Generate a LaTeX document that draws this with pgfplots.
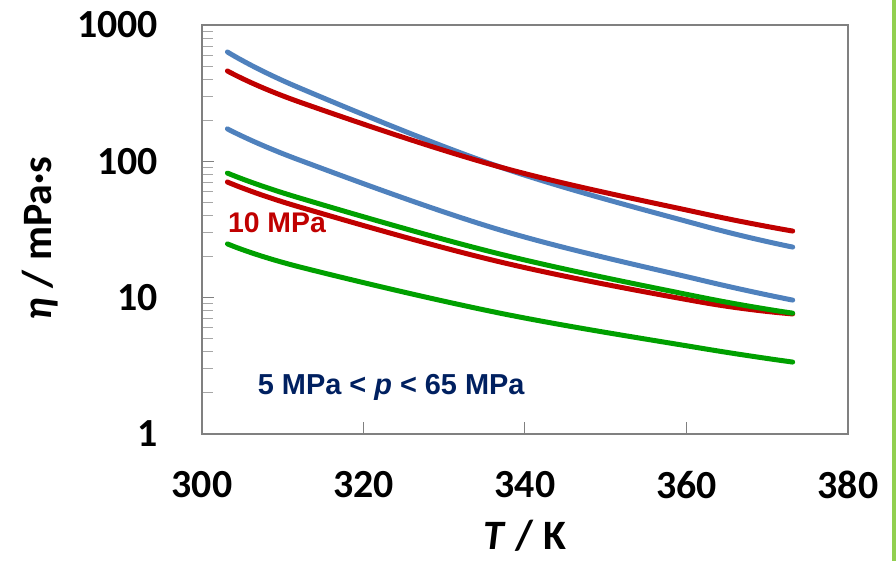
\documentclass[border=0pt]{standalone}
\usepackage{fontspec}
\setmainfont{Carlito}
\newfontfamily\arialfont{Liberation Sans}
\usepackage{pgfplots}
\pgfplotsset{compat=1.18}
\definecolor{cblue}{RGB}{79,129,189}
\definecolor{cred}{RGB}{192,0,0}
\definecolor{cgreen}{RGB}{0,160,0}
\definecolor{cnavy}{RGB}{0,32,96}
\definecolor{cbar}{RGB}{146,208,80}
\definecolor{caxis}{RGB}{128,128,128}
\newcommand\fs[1]{\fontsize{#1}{#1}\selectfont}
\begin{document}
\begin{tikzpicture}
\path[use as bounding box] (-202bp,-127bp) rectangle (694bp,434bp);
\begin{axis}[
  at={(0,0)}, anchor=south west,
  scale only axis, width=646bp, height=409bp,
  xmin=300, xmax=380, ymode=log, ymin=1, ymax=1000,
  xtick={300,320,340,360,380},
  ytick={1,10,100,1000},
  yticklabels={1,10,100,1000},
  minor ytick={2,3,4,5,6,7,8,9,20,30,40,50,60,70,80,90,200,300,400,500,600,700,800,900},
  xtick pos=left, ytick pos=left,
  tick align=inside,
  major tick length=12bp, minor tick length=11bp,
  axis line style={caxis, line width=1.2bp},
  major tick style={caxis, line width=1bp},
  minor tick style={caxis!70, line width=1bp},
  /pgf/number format/assume math mode=true,
  xticklabel style={font=\fs{40}\bfseries, inner sep=0pt, anchor=center, yshift=-51bp},
  yticklabel style={font=\fs{40}\bfseries, inner sep=0pt, anchor=east, xshift=-44bp},
  clip=false,
  every axis plot/.append style={line width=5bp, line cap=round, smooth, tension=0.6, no marks},
]
\addplot[cblue] coordinates {(303.15,634) (312.1,345) (336.9,90.9) (361.7,34.1) (373.15,23.5)};
\addplot[cblue] coordinates {(303.15,173) (312.1,102) (336.9,31.4) (361.7,13.5) (373.15,9.6)};
\addplot[cred] coordinates {(303.15,460) (312.1,272) (336.9,90.9) (361.7,41.8) (373.15,30.8)};
\addplot[cred] coordinates {(303.15,70.5) (312.1,46.2) (336.9,18.3) (361.7,9.3) (373.15,7.6)};
\addplot[cgreen] coordinates {(303.15,82) (312.1,53.8) (336.9,20.9) (361.7,10.1) (373.15,7.7)};
\addplot[cgreen] coordinates {(303.15,24.8) (312.1,16.8) (336.9,7.7) (361.7,4.27) (373.15,3.37)};
\node[anchor=west, inner sep=0pt, text=cred, font=\arialfont\fs{28.5}\bfseries] at (axis cs:303.2,35.3) {10 MPa};
\node[anchor=west, inner sep=0pt, text=cnavy, font=\arialfont\fs{29}\bfseries] at (axis cs:306.9,2.21) {5 MPa < \textit{p} < 65 MPa};
\node[rotate=90, inner sep=0pt, font=\fs{42}\bfseries] at (rel axis cs:-0.2508,0.478) {\textit{η} / mPa·s};
\node[inner sep=0pt, font=\fs{42}\bfseries] at (rel axis cs:0.5,-0.250) {\textit{T} / K};
\end{axis}
\fill[cbar] (690bp,-127bp) rectangle (694bp,434bp);
\end{tikzpicture}
\end{document}
